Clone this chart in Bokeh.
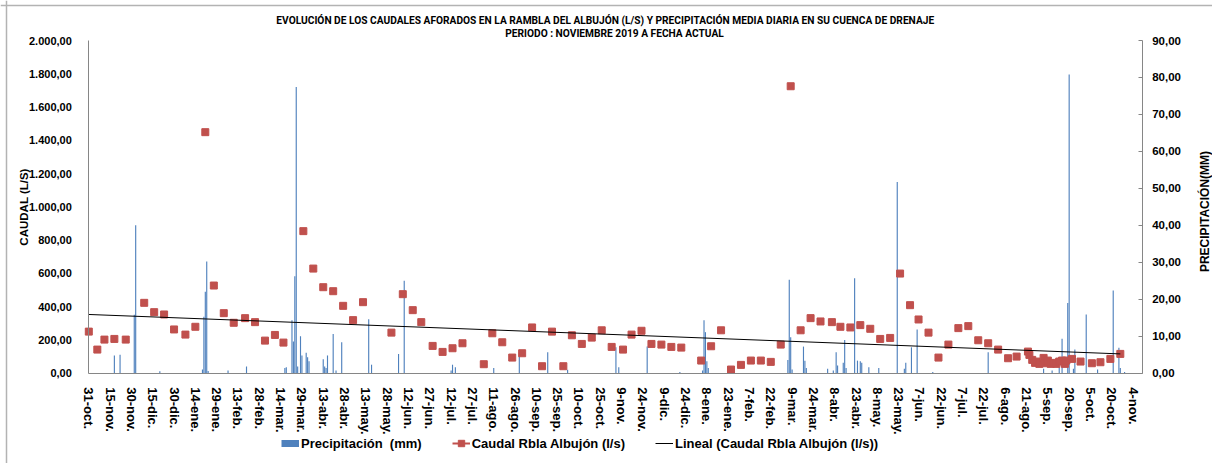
import math
import numpy as np
import pandas as pd
from bokeh.plotting import figure
from bokeh.models import (Range1d, LinearAxis, FixedTicker, CustomJSTickFormatter,
                          Legend, LegendItem, Label, Span)
from bokeh.embed import file_html
from bokeh.resources import INLINE

# ---------------- texts ----------------
TITLE_1 = ("EVOLUCIÓN DE LOS CAUDALES AFORADOS EN LA RAMBLA DEL ALBUJÓN (L/S)  "
           "Y PRECIPITACIÓN MEDIA DIARIA EN SU CUENCA DE DRENAJE")
TITLE_2 = "PERIODO : NOVIEMBRE 2019 A FECHA ACTUAL"
Y_LEFT_LABEL = "CAUDAL (L/S)"
Y_RIGHT_LABEL = "PRECIPITACIÓN(MM)"
SERIES_NAMES = ["Precipitación  (mm)", "Caudal Rbla Albujón (l/s)",
                "Lineal (Caudal Rbla Albujón (l/s))"]

# ---------------- axis ticks ----------------
X_START = "2019-10-31"
X_SPAN_DAYS = 741.4
X_TICK_STEP_DAYS = 15
X_TICK_LABELS = [
    "31-oct.", "15-nov.", "30-nov.", "15-dic.", "30-dic.", "14-ene.", "29-ene.", "13-feb.",
    "28-feb.", "14-mar.", "29-mar.", "13-abr.", "28-abr.", "13-may.", "28-may.", "12-jun.",
    "27-jun.", "12-jul.", "27-jul.", "11-ago.", "26-ago.", "10-sep.", "25-sep.", "10-oct.",
    "25-oct.", "9-nov.", "24-nov.", "9-dic.", "24-dic.", "8-ene.", "23-ene.", "7-feb.",
    "22-feb.", "9-mar.", "24-mar.", "8-abr.", "23-abr.", "8-may.", "23-may.", "7-jun.",
    "22-jun.", "7-jul.", "22-jul.", "6-ago.", "21-ago.", "5-sep.", "20-sep.", "5-oct.",
    "20-oct.", "4-nov.",
]
Y_LEFT_MAX = 2000
Y_RIGHT_MAX = 90
Y_LEFT_TICKS = [0, 200, 400, 600, 800, 1000, 1200, 1400, 1600, 1800, 2000]
Y_RIGHT_TICKS = [0, 10, 20, 30, 40, 50, 60, 70, 80, 90]

# ---------------- data: caudal (l/s) ----------------
CAUDAL_FECHAS = [
    "2019-10-31", "2019-11-06", "2019-11-11", "2019-11-18", "2019-11-26", "2019-12-09",
    "2019-12-16", "2019-12-23", "2019-12-30", "2020-01-07", "2020-01-14", "2020-01-21",
    "2020-01-27", "2020-02-03", "2020-02-10", "2020-02-18", "2020-02-25", "2020-03-03",
    "2020-03-10", "2020-03-16", "2020-03-30", "2020-04-06", "2020-04-13", "2020-04-20",
    "2020-04-27", "2020-05-04", "2020-05-11", "2020-05-31", "2020-06-08", "2020-06-15",
    "2020-06-21", "2020-06-29", "2020-07-06", "2020-07-13", "2020-07-20", "2020-08-04",
    "2020-08-10", "2020-08-17", "2020-08-24", "2020-08-31", "2020-09-07", "2020-09-14",
    "2020-09-21", "2020-09-29", "2020-10-05", "2020-10-12", "2020-10-19", "2020-10-26",
    "2020-11-02", "2020-11-10", "2020-11-16", "2020-11-23", "2020-11-30", "2020-12-07",
    "2020-12-14", "2020-12-21", "2021-01-04", "2021-01-11", "2021-01-18", "2021-01-25",
    "2021-02-01", "2021-02-08", "2021-02-15", "2021-02-22", "2021-03-01", "2021-03-08",
    "2021-03-15", "2021-03-22", "2021-03-29", "2021-04-06", "2021-04-12", "2021-04-19",
    "2021-04-26", "2021-05-03", "2021-05-10", "2021-05-17", "2021-05-24", "2021-05-31",
    "2021-06-06", "2021-06-13", "2021-06-20", "2021-06-27", "2021-07-04", "2021-07-11",
    "2021-07-18", "2021-07-25", "2021-08-01", "2021-08-08", "2021-08-14", "2021-08-22",
    "2021-08-23", "2021-08-25", "2021-08-27", "2021-08-28", "2021-08-30", "2021-09-02",
    "2021-09-03", "2021-09-05", "2021-09-07", "2021-09-09", "2021-09-11", "2021-09-13",
    "2021-09-15", "2021-09-17", "2021-09-18", "2021-09-22", "2021-09-28", "2021-10-06",
    "2021-10-12", "2021-10-19", "2021-10-26",
]
CAUDAL_LS = [
    250, 142, 202, 206, 202, 423,
    367, 353, 263, 232, 279, 1449,
    527, 361, 303, 331, 307, 196,
    230, 184, 854, 629, 517, 493,
    405, 319, 427, 244, 475, 379,
    307, 164, 128, 150, 180, 54,
    240, 186, 94, 120, 275, 42,
    250, 42, 228, 176, 214, 258,
    158, 142, 232, 255, 176, 172,
    158, 154, 76, 162, 258, 22,
    50, 76, 76, 68, 172, 1725,
    258, 331, 311, 307, 279, 275,
    289, 267, 206, 212, 599, 409,
    323, 244, 94, 172, 271, 283,
    198, 180, 142, 90, 100, 130,
    110, 80, 62, 70, 56, 92,
    60, 76, 56, 62, 56, 70,
    76, 56, 76, 86, 70, 60,
    66, 86, 116,
]

# ---------------- data: linear trend series ----------------
LINEAL_FECHAS = ["2019-10-31", "2021-10-26"]
LINEAL_LS = [353, 116]

# ---------------- data: precipitación (mm) ----------------
PRECIP_FECHAS = [
    "2019-11-18", "2019-11-22", "2019-12-02", "2019-12-03", "2019-12-20", "2020-01-19",
    "2020-01-20", "2020-01-21", "2020-01-22", "2020-01-23", "2020-02-06", "2020-02-19",
    "2020-03-17", "2020-03-18", "2020-03-22", "2020-03-23", "2020-03-24", "2020-03-25",
    "2020-03-26", "2020-03-28", "2020-03-29", "2020-04-01", "2020-04-02", "2020-04-03",
    "2020-04-13", "2020-04-14", "2020-04-15", "2020-04-16", "2020-04-20", "2020-04-22",
    "2020-04-26", "2020-05-15", "2020-05-17", "2020-06-05", "2020-06-09", "2020-07-12",
    "2020-07-13", "2020-07-15", "2020-08-11", "2020-08-29", "2020-09-18", "2020-10-02",
    "2020-11-05", "2020-11-07", "2020-11-27", "2020-12-20", "2021-01-05", "2021-01-06",
    "2021-01-07", "2021-01-08", "2021-01-09", "2021-03-06", "2021-03-07", "2021-03-08",
    "2021-03-09", "2021-03-17", "2021-03-18", "2021-03-19", "2021-04-03", "2021-04-07",
    "2021-04-09", "2021-04-10", "2021-04-14", "2021-04-15", "2021-04-16", "2021-04-22",
    "2021-04-24", "2021-04-26", "2021-04-27", "2021-05-02", "2021-05-09", "2021-05-22",
    "2021-05-27", "2021-05-28", "2021-06-01", "2021-06-05", "2021-06-16", "2021-07-25",
    "2021-09-02", "2021-09-08", "2021-09-13", "2021-09-15", "2021-09-19", "2021-09-20",
    "2021-09-23", "2021-09-24", "2021-10-02", "2021-10-10", "2021-10-21", "2021-10-25",
    "2021-10-26", "2021-10-29",
]
PRECIP_MM = [
    4.8, 5.0, 15.8, 40.0, 0.5, 1.0,
    15.3, 22.0, 30.2, 0.6, 0.7, 1.8,
    1.4, 1.6, 14.3, 8.6, 26.2, 77.4,
    1.8, 10.0, 4.8, 5.5, 4.3, 3.2,
    3.8, 1.8, 1.4, 4.8, 10.6, 0.7,
    8.4, 14.6, 2.3, 5.2, 25.0, 0.7,
    2.3, 1.6, 1.4, 5.7, 5.7, 0.9,
    7.0, 1.6, 7.2, 0.3, 0.7, 14.3,
    11.1, 3.2, 1.4, 3.6, 25.3, 9.7,
    1.0, 7.2, 3.4, 1.4, 1.2, 0.7,
    5.7, 2.1, 2.8, 9.0, 1.4, 25.7,
    3.4, 3.2, 2.8, 1.6, 1.4, 51.7,
    1.2, 2.8, 7.0, 11.8, 0.3, 5.7,
    1.2, 0.7, 1.6, 9.3, 19.0, 80.8,
    1.2, 6.4, 15.9, 1.0, 22.4, 6.9,
    1.4, 0.3,
]

# ---------------- helpers ----------------
DAY_MS = 86400000.0


def to_ms(dates):
    return (pd.to_datetime(dates).astype("int64") // 10**6).astype(float).to_numpy()


t0 = to_ms([X_START])[0]
t_end = t0 + X_SPAN_DAYS * DAY_MS
step = X_TICK_STEP_DAYS * DAY_MS
tick_ms = [t0 + i * step for i in range(len(X_TICK_LABELS))]

c_x = to_ms(CAUDAL_FECHAS)
c_y = np.array(CAUDAL_LS, dtype=float)
p_x = to_ms(PRECIP_FECHAS)
p_y = np.array(PRECIP_MM, dtype=float)
l_x = to_ms(LINEAL_FECHAS)
l_y = np.array(LINEAL_LS, dtype=float)

# ---------------- layout (canvas pixels) ----------------
W, H = 1212, 463
PX_LEFT, PX_RIGHT = 88.3, 1141.7     # plot area left / right
PX_TOP, PX_BOTTOM = 40.0, 372.7      # plot area top / bottom

ms_per_px = (t_end - t0) / (PX_RIGHT - PX_LEFT)
ul_per_px = Y_LEFT_MAX / (PX_BOTTOM - PX_TOP)
ur_per_px = Y_RIGHT_MAX / (PX_BOTTOM - PX_TOP)

FONT = "Liberation Sans"
TITLE_FONT = "Roboto"
AXIS_GREY = "#868686"
BLUE = "#4F81BD"
RED = "#C0504D"

p = figure(width=W, height=H, output_backend="svg", toolbar_location=None,
           x_range=Range1d(t0 - PX_LEFT * ms_per_px, t0 + (W - PX_LEFT) * ms_per_px),
           y_range=Range1d(-(H - PX_BOTTOM) * ul_per_px, Y_LEFT_MAX + PX_TOP * ul_per_px),
           min_border=0, min_border_left=0, min_border_right=0,
           min_border_top=0, min_border_bottom=0,
           background_fill_color="white", border_fill_color="white",
           outline_line_color=None)
p.extra_y_ranges = {"prec": Range1d(-(H - PX_BOTTOM) * ur_per_px,
                                     Y_RIGHT_MAX + PX_TOP * ur_per_px)}
p.xgrid.visible = False
p.ygrid.visible = False

# x axis
xa = p.below[0]
xa.fixed_location = 0
xa.bounds = (t0, t_end)
xa.ticker = FixedTicker(ticks=tick_ms)
xa.formatter = CustomJSTickFormatter(
    args=dict(labels=X_TICK_LABELS, t0=t0, step=step),
    code="const i = Math.round((tick - t0) / step); return (i >= 0 && i < labels.length) ? labels[i] : '';")
xa.major_label_orientation = -math.pi / 2
xa.major_label_standoff = 8
xa.major_label_text_font = FONT
xa.major_label_text_font_style = "bold"
xa.major_label_text_font_size = "13px"
xa.major_label_text_color = "black"
xa.major_tick_line_color = None
xa.minor_tick_line_color = None
xa.axis_line_color = AXIS_GREY

NUM_FMT = r"""
const parts = tick.toFixed(2).split('.');
const ip = parts[0].replace(/\B(?=(\d{3})+(?!\d))/g, '.');
return ip + ',' + parts[1];
"""

# left axis
ya = p.left[0]
ya.fixed_location = t0
ya.bounds = (0, Y_LEFT_MAX)
ya.ticker = FixedTicker(ticks=Y_LEFT_TICKS)
ya.formatter = CustomJSTickFormatter(code=NUM_FMT)
ya.major_label_standoff = 11
ya.major_label_text_font = FONT
ya.major_label_text_font_style = "bold"
ya.major_label_text_font_size = "11px"
ya.major_label_text_color = "black"
ya.major_tick_line_color = None
ya.minor_tick_line_color = None
ya.axis_line_color = AXIS_GREY

# right axis
yr = LinearAxis(y_range_name="prec", ticker=FixedTicker(ticks=Y_RIGHT_TICKS),
                formatter=CustomJSTickFormatter(code=NUM_FMT))
yr.fixed_location = t_end
yr.bounds = (0, Y_RIGHT_MAX)
yr.major_label_standoff = 10
yr.major_label_text_font = FONT
yr.major_label_text_font_style = "bold"
yr.major_label_text_font_size = "11.5px"
yr.major_label_text_color = "black"
yr.major_tick_in = 4
yr.major_tick_out = 0
yr.major_tick_line_color = AXIS_GREY
yr.minor_tick_line_color = None
yr.axis_line_color = AXIS_GREY
p.add_layout(yr, "right")

# glyphs
bars = p.vbar(x=p_x, top=p_y, width=0.8 * DAY_MS, y_range_name="prec",
              fill_color=BLUE, line_color=None)
pts = p.scatter(x=c_x, y=c_y, marker="square", size=7, fill_color=RED, line_color=RED)
trend = p.line(x=l_x, y=l_y, line_color="black", line_width=1)

# legend proxies (single point -> nothing drawn in the plot, only in the legend)
leg_prec = p.line(x=[t0], y=[0], line_width=7, line_color=BLUE)
leg_caud = p.line(x=[t0], y=[0], line_width=2, line_color=RED)

legend = Legend(items=[
    LegendItem(label=SERIES_NAMES[0], renderers=[leg_prec]),
    LegendItem(label=SERIES_NAMES[1], renderers=[leg_caud, pts]),
    LegendItem(label=SERIES_NAMES[2], renderers=[trend]),
], orientation="horizontal", location=(281, H - 451))
legend.label_text_font = FONT
legend.label_text_font_style = "bold"
legend.label_text_font_size = "13px"
legend.label_text_color = "black"
legend.glyph_width = 18
legend.glyph_height = 16
legend.label_standoff = 2
legend.spacing = 30
legend.padding = 0
legend.margin = 0
legend.border_line_color = None
legend.background_fill_alpha = 0
p.add_layout(legend, "center")


def screen_label(text, cx, cy, font, size, angle=0.0):
    return Label(x=cx, y=H - cy, x_units="screen", y_units="screen", text=text,
                 angle=angle, text_font=font, text_font_style="bold",
                 text_font_size=size, text_align="center", text_baseline="middle",
                 text_color="black")


p.add_layout(screen_label(TITLE_1, 606, 20, TITLE_FONT, "10.2px"))
p.add_layout(screen_label(TITLE_2, 614, 33.3, TITLE_FONT, "10.2px"))
p.add_layout(screen_label(Y_LEFT_LABEL, 23, 206.5, FONT, "11.5px", math.pi / 2))
p.add_layout(screen_label(Y_RIGHT_LABEL, 1204, 211, FONT, "12px", math.pi / 2))

# light chart-area border (top and left edges)
p.add_layout(Span(location=H - 5, location_units="screen", dimension="width",
                  line_color="#B3B3B3", line_width=1.5))
p.add_layout(Span(location=6, location_units="screen", dimension="height",
                  line_color="#B3B3B3", line_width=1.5))

open("out.html", "w").write(file_html(p, INLINE))
